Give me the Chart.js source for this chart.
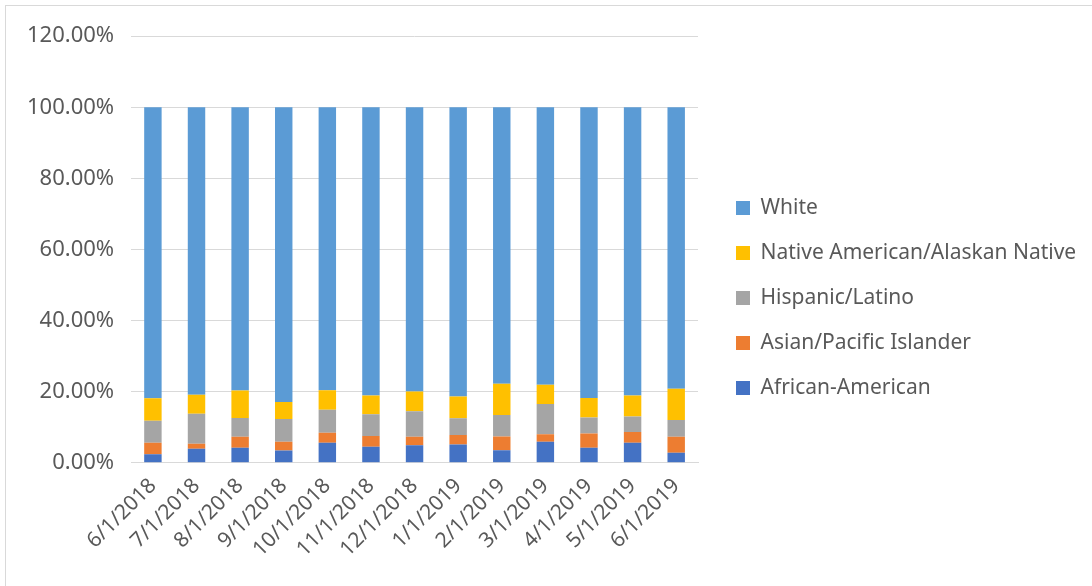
<!DOCTYPE html>
<html>
<head>
<meta charset="utf-8">
<script src="https://cdn.jsdelivr.net/npm/chart.js@4/dist/chart.umd.min.js"></script>
<style>
  body { margin: 0; background: #fff; overflow: hidden; }
  #box { position: absolute; left: 5px; top: 5px; width: 1100px; height: 600px; border: 1px solid #d9d9d9; }
</style>
</head>
<body>
<div id="box"><canvas id="Chart1" width="1082" height="575"></canvas></div>
<script>
var labels = ["6/1/2018", "7/1/2018", "8/1/2018", "9/1/2018", "10/1/2018", "11/1/2018", "12/1/2018",
              "1/1/2019", "2/1/2019", "3/1/2019", "4/1/2019", "5/1/2019", "6/1/2019"];

// shares in percent
var african  = [2.4, 3.9, 4.2, 3.4, 5.6, 4.5, 4.9, 5.1, 3.5, 5.9, 4.2, 5.6, 2.8];
var asian    = [3.2, 1.4, 3.1, 2.5, 2.8, 3.0, 2.4, 2.7, 3.9, 2.1, 4.0, 3.0, 4.5];
var hispanic = [6.2, 8.5, 5.3, 6.4, 6.5, 6.1, 7.2, 4.7, 6.0, 8.5, 4.5, 4.4, 4.7];
var native   = [6.3, 5.3, 7.7, 4.8, 5.5, 5.3, 5.5, 6.1, 8.8, 5.4, 5.5, 5.9, 8.8];
var white    = [81.9, 80.9, 79.7, 82.9, 79.6, 81.1, 80.0, 81.4, 77.8, 78.1, 81.8, 81.1, 79.2];

var yTicks = [0, 20, 40, 60, 80, 100, 120];

var fontFamily = "'Noto Sans', sans-serif";
var textColor = "#595959";

// legend takes the space right of the plot, items start further in
var legendPlace = {
    id: 'legendPlace',
    beforeInit: function (chart) {
        var fit = chart.legend.fit;
        chart.legend.fit = function () {
            fit.bind(chart.legend)();
            this.width = 390;
        };
    },
    afterLayout: function (chart) {
        chart.legend.left = 706;
        chart.legend.top += 8;
        chart.legend.bottom += 8;
    }
};

function ds(label, data, color) {
    return { label: label, data: data, backgroundColor: color, borderWidth: 0,
             barPercentage: 1, categoryPercentage: 0.4 };
}

var ctx = document.getElementById("Chart1").getContext("2d");
var myChart = new Chart(ctx, {
    type: 'bar',
    data: {
        labels: labels,
        datasets: [
            ds('African-American', african, '#4472C4'),
            ds('Asian/Pacific Islander', asian, '#ED7D31'),
            ds('Hispanic/Latino', hispanic, '#A5A5A5'),
            ds('Native American/Alaskan Native', native, '#FFC000'),
            ds('White', white, '#5B9BD5')
        ]
    },
    options: {
        responsive: false,
        animation: false,
        layout: { padding: { left: 4, right: 0, top: 9, bottom: 16 } },
        plugins: {
            tooltip: { enabled: false },
            legend: {
                position: 'right',
                reverse: true,
                labels: {
                    boxWidth: 14, boxHeight: 14, padding: 24,
                    color: textColor,
                    font: { family: fontFamily, size: 21 }
                }
            }
        },
        scales: {
            x: {
                stacked: true,
                grid: { display: false },
                border: { color: '#d9d9d9' },
                ticks: {
                    minRotation: 45, maxRotation: 45, color: textColor,
                    font: { family: fontFamily, size: 21 }
                }
            },
            y: {
                stacked: true,
                min: 0, max: 120,
                afterBuildTicks: function (axis) {
                    axis.ticks = yTicks.map(function (v) { return { value: v }; });
                },
                grid: { color: '#d9d9d9', drawTicks: false },
                border: { display: false },
                ticks: {
                    padding: 17, color: textColor,
                    font: { family: fontFamily, size: 22 },
                    callback: function (v) { return v.toFixed(2) + '%'; }
                }
            }
        }
    },
    plugins: [legendPlace]
});
</script>
</body>
</html>
